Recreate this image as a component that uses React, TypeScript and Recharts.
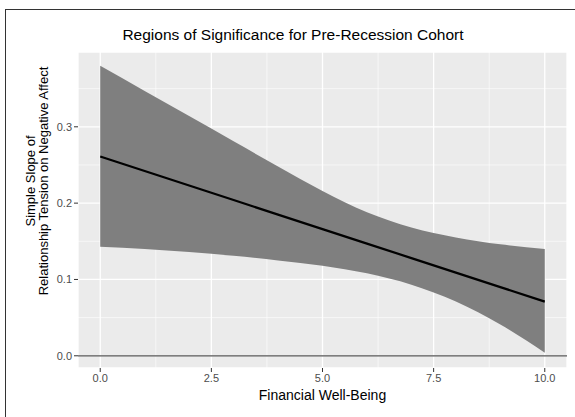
import { ComposedChart, Area, Line, XAxis, YAxis, CartesianGrid, ReferenceLine } from 'recharts'

// values
const wellBeing = [0, 1, 2, 3, 4, 5, 6, 7, 8, 9, 10]
const simpleSlope = [0.261, 0.242, 0.223, 0.204, 0.185, 0.166, 0.147, 0.128, 0.109, 0.09, 0.071]
const upperCI = [0.38, 0.347, 0.314, 0.281, 0.248, 0.216, 0.188, 0.168, 0.155, 0.146, 0.14]
const lowerCI = [0.143, 0.14, 0.136, 0.131, 0.125, 0.118, 0.108, 0.093, 0.071, 0.041, 0.004]

const xTicks = [0, 2.5, 5, 7.5, 10]
const xMinor = [1.25, 3.75, 6.25, 8.75]
const yTicks = [0, 0.1, 0.2, 0.3]
const yMinor = [0.05, 0.15, 0.25, 0.35]

const xDomain = [-0.5, 10.5]
const yDomain = [-0.016, 0.398]

const data = wellBeing.map((x, i) => ({
  x,
  slope: simpleSlope[i],
  band: [lowerCI[i], upperCI[i]],
}))

const font = 'Liberation Sans, Arial, Helvetica, sans-serif'
const tickStyle = { fill: '#4D4D4D', fontSize: 11, fontFamily: font }

export default function App() {
  return (
    <div style={{ position: 'fixed', left: 0, top: 0, width: 575, height: 417, overflow: 'hidden', background: '#fff', fontFamily: font }}>
      {/* outer frame, cut off at right and bottom */}
      <div style={{ position: 'absolute', left: 5, top: 9, width: 620, height: 460, border: '1.5px solid #333' }} />

      <div style={{ position: 'absolute', left: 0, top: 0 }}>
        <ComposedChart width={575} height={417} data={data} margin={{ top: 52, right: 8, bottom: 0, left: 0 }}>
          <CartesianGrid fill="#EBEBEB" stroke="#FFFFFF" strokeWidth={1.3} />
          {/* minor grid, kept under the band */}
          {xMinor.map(v => (
            <ReferenceLine key={`xm${v}`} x={v} stroke="#FFFFFF" strokeWidth={0.6} zIndex={-50} />
          ))}
          {yMinor.map(v => (
            <ReferenceLine key={`ym${v}`} y={v} stroke="#FFFFFF" strokeWidth={0.6} zIndex={-50} />
          ))}
          <XAxis
            type="number"
            dataKey="x"
            domain={xDomain}
            ticks={xTicks}
            tickFormatter={(v: number) => v.toFixed(1)}
            height={49}
            axisLine={false}
            tickLine={{ stroke: '#333333' }}
            tickSize={4}
            tick={tickStyle}
          />
          <YAxis
            type="number"
            domain={yDomain}
            ticks={yTicks}
            tickFormatter={(v: number) => v.toFixed(1)}
            width={78}
            axisLine={false}
            tickLine={{ stroke: '#333333' }}
            tickSize={4}
            tick={tickStyle}
          />
          <Area dataKey="band" type="monotone" fill="#7F7F7F" fillOpacity={1} stroke="none" isAnimationActive={false} />
          <ReferenceLine y={0} stroke="#555555" strokeWidth={1.2} />
          <Line dataKey="slope" type="linear" stroke="#000000" strokeWidth={2.2} dot={false} isAnimationActive={false} />
        </ComposedChart>
      </div>

      <div style={{ position: 'absolute', left: 0, width: 586, top: 25, textAlign: 'center', fontSize: 15.5, color: '#000', lineHeight: '20px' }}>
        Regions of Significance for Pre-Recession Cohort
      </div>
      <div style={{ position: 'absolute', left: 78, width: 489, top: 386, textAlign: 'center', fontSize: 14, color: '#000', lineHeight: '18px' }}>
        Financial Well-Being
      </div>
      <div
        style={{
          position: 'absolute',
          left: 37,
          top: 181,
          width: 300,
          transform: 'translate(-50%, -50%) rotate(-90deg)',
          textAlign: 'center',
          fontSize: 13,
          lineHeight: '13px',
          color: '#000',
        }}
      >
        Simple Slope of
        <br />
        Relationship Tension on Negative Affect
      </div>
    </div>
  )
}
